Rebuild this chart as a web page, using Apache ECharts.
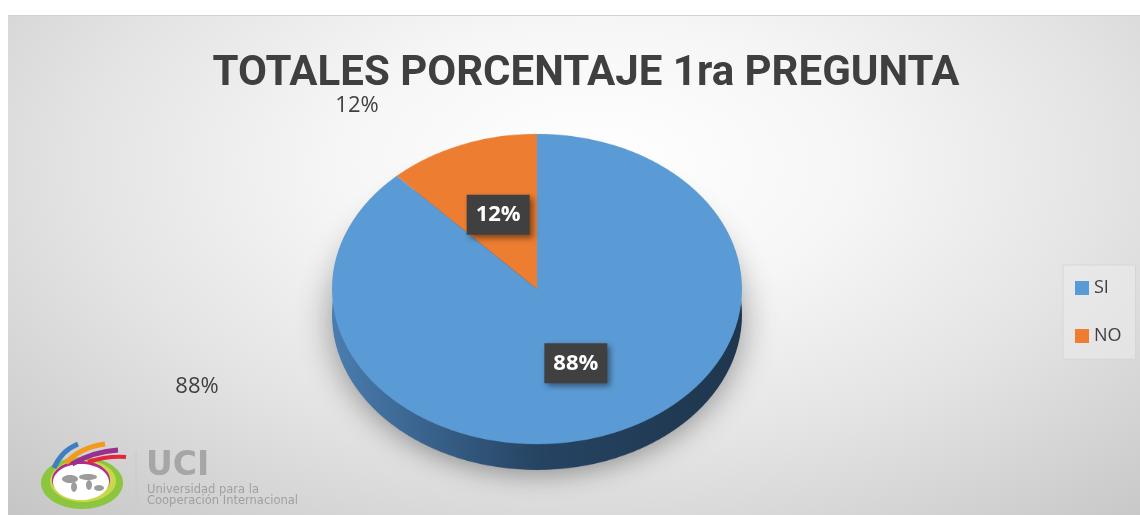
<!DOCTYPE html>
<html>
<head>
<meta charset="utf-8">
<script src="https://cdn.jsdelivr.net/npm/echarts@6/dist/echarts.min.js"></script>
<style>
	html, body { margin: 0; padding: 0; background: #fff; }
	#wrap {
		position: absolute; left: 8px; top: 15px; width: 1132px; height: 500px;
		background: radial-gradient(ellipse 75% 95% at 52% 30%, #ffffff 0%, #f6f6f6 30%, #e4e4e4 60%, #c6c6c6 100%);
		border-top: 1px solid #d2d2d2;
		overflow: hidden;
	}
	#main { position: absolute; left: 0; top: 0; width: 1132px; height: 500px; }
	#pie { position: absolute; left: 0; top: 0; width: 1132px; height: 700px; transform: scaleY(0.757); transform-origin: 0 273px; }
</style>
</head>
<body>
<div id="wrap">
	<div id="pie"></div>
	<div id="main"></div>
</div>
<script>
const categories = ["SI", "NO"];
const values = [88, 12];
const colors = ["#5b9bd5", "#ed7d31"];

const pieData = categories.map((name, i) => ({ name: name, value: values[i] }));

const cx = 529, cy = 273, radius = 205, squash = 0.757;

// pie body, squashed into an ellipse by the css transform
const pieChart = echarts.init(document.getElementById("pie"));
pieChart.setOption({
	animation: false,
	series: [
		{
			// side of the disc
			type: "pie",
			silent: true,
			center: [cx, cy + 34],
			radius: radius,
			startAngle: 90,
			label: { show: false },
			labelLine: { show: false },
			itemStyle: {
				color: new echarts.graphic.LinearGradient(0, 0, 1, 0, [
					{ offset: 0, color: "#4a7db0" },
					{ offset: 0.5, color: "#264463" },
					{ offset: 1, color: "#1f364d" },
				]),
				shadowBlur: 34,
				shadowColor: "rgba(0,0,0,0.38)",
				shadowOffsetY: 6,
			},
			data: pieData,
		},
		{
			type: "pie",
			silent: true,
			center: [cx, cy],
			radius: radius,
			startAngle: 90,
			label: { show: false },
			labelLine: { show: false },
			data: pieData.map((d, i) => ({ ...d, itemStyle: { color: colors[i] } })),
		},
	],
});

const chart = echarts.init(document.getElementById("main"));
const outerPos = [[189, 371], [349, 90]];

chart.setOption({
	animation: false,
	title: {
		text: "TOTALES PORCENTAJE 1ra PREGUNTA",
		left: 573,
		top: 32,
		textAlign: "center",
		textStyle: {
			fontFamily: "Roboto",
			fontWeight: "bold",
			fontSize: 42,
			color: "#3f3f3f",
		},
	},
	legend: {
		orient: "vertical",
		left: 1055,
		top: 249,
		padding: [14, 14, 14, 12],
		itemWidth: 14,
		itemHeight: 14,
		itemGap: 30,
		icon: "rect",
		backgroundColor: "rgba(235,235,235,0.6)",
		borderColor: "#d6d6d6",
		borderWidth: 1,
		textStyle: { fontFamily: "Open Sans", fontSize: 18, color: "#404040" },
		data: categories.map((name, i) => ({ name: name, itemStyle: { color: colors[i] } })),
	},
	series: [
		{
			// labels inside the slices
			type: "pie",
			silent: true,
			center: [cx, cy],
			radius: radius,
			startAngle: 90,
			itemStyle: { color: "rgba(0,0,0,0)" },
			label: {
				position: "inside",
				formatter: "{c}%",
				fontFamily: "Open Sans",
				fontWeight: "bold",
				fontSize: 22,
				color: "#fff",
				backgroundColor: "#404040",
				padding: [9, 9],
				shadowBlur: 6,
				shadowColor: "rgba(0,0,0,0.45)",
				shadowOffsetX: 3,
				shadowOffsetY: 3,
			},
			labelLayout: function (p) {
				const my = p.labelRect.y + p.labelRect.height / 2;
				return { dy: (my - cy) * (squash - 1) };
			},
			data: pieData,
		},
		{
			// labels outside
			type: "pie",
			silent: true,
			center: [cx, cy],
			radius: radius,
			startAngle: 90,
			itemStyle: { color: "rgba(0,0,0,0)" },
			label: {
				position: "outside",
				formatter: "{c}%",
				fontFamily: "Open Sans",
				fontSize: 22,
				color: "#404040",
			},
			labelLine: { show: false },
			labelLayout: function (p) {
				return { x: outerPos[p.dataIndex][0], y: outerPos[p.dataIndex][1], align: "center", verticalAlign: "middle" };
			},
			data: pieData,
		},
	],
	graphic: [
		// logo
		{ type: "ellipse", shape: { cx: 74, cy: 467, rx: 41, ry: 26 }, style: { fill: "#8cc63f" }, silent: true },
		{ type: "ellipse", shape: { cx: 75, cy: 465, rx: 33, ry: 21 }, style: { fill: "#c8d84a" }, silent: true },
		{ type: "ellipse", shape: { cx: 73, cy: 464, rx: 29, ry: 19 }, style: { fill: "#b52a8c" }, silent: true },
		{ type: "ellipse", shape: { cx: 73, cy: 466, rx: 28, ry: 18 }, style: { fill: "#ffffff" }, silent: true },
		{ type: "ellipse", shape: { cx: 62, cy: 463, rx: 8, ry: 4 }, style: { fill: "#9c9c9c" }, silent: true },
		{ type: "ellipse", shape: { cx: 66, cy: 471, rx: 3, ry: 5 }, style: { fill: "#9c9c9c" }, silent: true },
		{ type: "ellipse", shape: { cx: 80, cy: 461, rx: 9, ry: 3 }, style: { fill: "#9c9c9c" }, silent: true },
		{ type: "ellipse", shape: { cx: 81, cy: 469, rx: 3, ry: 5 }, style: { fill: "#9c9c9c" }, silent: true },
		{ type: "ellipse", shape: { cx: 91, cy: 472, rx: 5, ry: 3 }, style: { fill: "#9c9c9c" }, silent: true },
		{ type: "bezierCurve", shape: { x1: 46, y1: 452, x2: 70, y2: 428, cpx1: 52, cpy1: 438, cpx2: 60, cpy2: 432 }, style: { stroke: "#3f7fc1", lineWidth: 5, fill: "none" }, silent: true },
		{ type: "bezierCurve", shape: { x1: 58, y1: 447, x2: 97, y2: 428, cpx1: 68, cpy1: 436, cpx2: 82, cpy2: 430 }, style: { stroke: "#f39a1e", lineWidth: 5, fill: "none" }, silent: true },
		{ type: "bezierCurve", shape: { x1: 64, y1: 448, x2: 110, y2: 434, cpx1: 78, cpy1: 440, cpx2: 94, cpy2: 435 }, style: { stroke: "#9a2f8f", lineWidth: 5, fill: "none" }, silent: true },
		{ type: "bezierCurve", shape: { x1: 80, y1: 446, x2: 118, y2: 441, cpx1: 92, cpy1: 442, cpx2: 106, cpy2: 440 }, style: { stroke: "#e3263d", lineWidth: 4, fill: "none" }, silent: true },
		{ type: "line", shape: { x1: 128, y1: 435, x2: 128, y2: 488 }, style: { stroke: "#cccccc", lineWidth: 1.5 }, silent: true },
		{ type: "text", left: 138, top: 434, style: { text: "UCI", fontFamily: "DejaVu Sans", fontWeight: "bold", fontSize: 33, fill: "#a6a6a6" }, silent: true },
		{ type: "text", left: 139, top: 468, style: { text: "Universidad para la", fontFamily: "DejaVu Sans", fontSize: 11.5, fill: "#a0a0a0" }, silent: true },
		{ type: "text", left: 139, top: 479, style: { text: "Cooperación Internacional", fontFamily: "DejaVu Sans", fontSize: 11.5, fill: "#a0a0a0" }, silent: true },
	],
});
</script>
</body>
</html>
